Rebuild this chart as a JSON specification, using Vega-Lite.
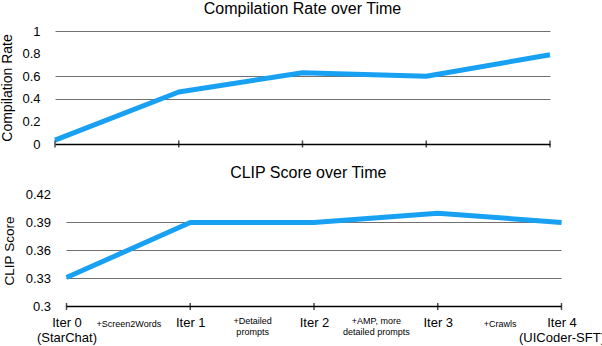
{
  "$schema": "https://vega.github.io/schema/vega-lite/v6.json",
  "padding": {"left": 0, "top": 1, "right": 0, "bottom": 0},
  "config": {
    "font": "Liberation Sans",
    "view": {"stroke": null},
    "title": {"fontSize": 16, "fontWeight": "normal", "color": "black", "font": "Liberation Sans"}
  },
  "data": {
    "values": [
      {"iter": "Iter 0", "compile": 0.035, "clip": 0.331},
      {"iter": "Iter 1", "compile": 0.46, "clip": 0.39},
      {"iter": "Iter 2", "compile": 0.63, "clip": 0.39},
      {"iter": "Iter 3", "compile": 0.6, "clip": 0.4},
      {"iter": "Iter 4", "compile": 0.79, "clip": 0.39}
    ]
  },
  "columns": 1,
  "spacing": 13.5,
  "concat": [
    {
      "title": {"text": "Compilation Rate over Time", "offset": 8},
      "width": 495,
      "height": 113,
      "layer": [
        {
          "mark": {"type": "line", "color": "#18a0f3", "strokeWidth": 5, "strokeJoin": "round"},
          "encoding": {
            "x": {
              "field": "iter", "type": "ordinal",
              "scale": {"type": "point", "padding": 0, "domain": ["Iter 0", "+Screen2Words", "Iter 1", "+Detailed prompts", "Iter 2", "+AMP, more detailed prompts", "Iter 3", "+Crawls", "Iter 4"]},
              "axis": {"title": null, "labels": false, "ticks": false, "tickSize": 0, "domainColor": "black", "domainWidth": 1.5}
            },
            "y": {
              "field": "compile", "type": "quantitative",
              "scale": {"domain": [0, 1], "nice": false},
              "axis": {
                "title": "Compilation Rate", "titleFontSize": 14, "titleFontWeight": "normal", "titleColor": "black", "titlePadding": 7.5,
                "values": [0, 0.2, 0.4, 0.6, 0.8, 1], "tickCount": 10, "format": "~g", "labelOverlap": false,
                "labelFontSize": 13, "labelColor": "black", "labelPadding": 15,
                "ticks": false, "tickSize": 0, "domain": false,
                "grid": true, "gridColor": "#707070", "gridWidth": 1,
                "gridOpacity": {"condition": {"test": "datum.value === 0 || datum.value === 0.2 || datum.value === 0.8", "value": 0}, "value": 1}
              }
            }
          }
        },
        {
          "mark": {"type": "tick", "orient": "vertical", "color": "black", "size": 7, "thickness": 1.5},
          "encoding": {
            "x": {"field": "iter", "type": "ordinal"},
            "y": {"datum": 0, "type": "quantitative"}
          }
        }
      ]
    },
    {
      "title": {"text": "CLIP Score over Time", "offset": 8},
      "width": 506.5,
      "height": 112,
      "layer": [
        {
          "data": {"values": [{}]},
          "mark": {"type": "rule", "color": "#707070", "strokeWidth": 1},
          "encoding": {"x": {"datum": "Iter 0", "type": "ordinal"}, "x2": {"datum": "Iter 4"}, "y": {"datum": 0.33, "type": "quantitative"}}
        },
        {
          "data": {"values": [{}]},
          "mark": {"type": "rule", "color": "#707070", "strokeWidth": 1},
          "encoding": {"x": {"datum": "Iter 0", "type": "ordinal"}, "x2": {"datum": "Iter 4"}, "y": {"datum": 0.36, "type": "quantitative"}}
        },
        {
          "data": {"values": [{}]},
          "mark": {"type": "rule", "color": "#707070", "strokeWidth": 1},
          "encoding": {"x": {"datum": "Iter 0", "type": "ordinal"}, "x2": {"datum": "Iter 4"}, "y": {"datum": 0.39, "type": "quantitative"}}
        },
        {
          "mark": {"type": "line", "color": "#18a0f3", "strokeWidth": 5, "strokeJoin": "round"},
          "encoding": {
            "x": {
              "field": "iter", "type": "ordinal",
              "scale": {"type": "point", "padding": 0.0929, "align": 1, "domain": ["Iter 0", "+Screen2Words", "Iter 1", "+Detailed prompts", "Iter 2", "+AMP, more detailed prompts", "Iter 3", "+Crawls", "Iter 4"]},
              "axis": {
                "title": null, "labelAngle": 0, "ticks": false, "tickSize": 0, "domain": false,
                "labelColor": "black", "labelBaseline": "top", "labelAlign": "center",
                "labelOverlap": false, "labelBound": false,
                "labelFontSize": {"condition": {"test": "indexof(datum.value, 'Iter') === 0", "value": 13}, "value": 9},
                "labelPadding": {"condition": {"test": "datum.value === '+Screen2Words' || datum.value === '+Crawls'", "value": 13}, "value": 10},
                "labelExpr": "datum.value === 'Iter 0' ? ['Iter 0', '(StarChat)'] : datum.value === 'Iter 4' ? ['Iter 4', '(UICoder-SFT)'] : datum.value === '+Detailed prompts' ? ['+Detailed', 'prompts'] : datum.value === '+AMP, more detailed prompts' ? ['+AMP, more', 'detailed prompts'] : datum.label",
                "encode": {"labels": {"update": {"lineHeight": {"signal": "indexof(datum.value, 'Iter') === 0 ? 16 : 10"}}}}
              }
            },
            "y": {
              "field": "clip", "type": "quantitative",
              "scale": {"domain": [0.3, 0.42], "nice": false, "zero": false},
              "axis": {
                "title": "CLIP Score", "titleFontSize": 13.5, "titleFontWeight": "normal", "titleColor": "black", "titlePadding": 8.7,
                "values": [0.3, 0.33, 0.36, 0.39, 0.42], "tickCount": 10, "format": "~g", "labelOverlap": false,
                "labelFontSize": 13, "labelColor": "black", "labelPadding": 4.5,
                "ticks": false, "tickSize": 0, "domain": false, "grid": false
              }
            }
          }
        },
        {
          "data": {"values": [{}]},
          "mark": {"type": "rule", "color": "black", "strokeWidth": 1.5},
          "encoding": {"x": {"datum": "Iter 0", "type": "ordinal"}, "x2": {"datum": "Iter 4"}, "y": {"datum": 0.3, "type": "quantitative"}}
        },
        {
          "mark": {"type": "tick", "orient": "vertical", "color": "black", "size": 7, "thickness": 1.5},
          "encoding": {
            "x": {"field": "iter", "type": "ordinal"},
            "y": {"datum": 0.3, "type": "quantitative"}
          }
        }
      ]
    }
  ]
}
